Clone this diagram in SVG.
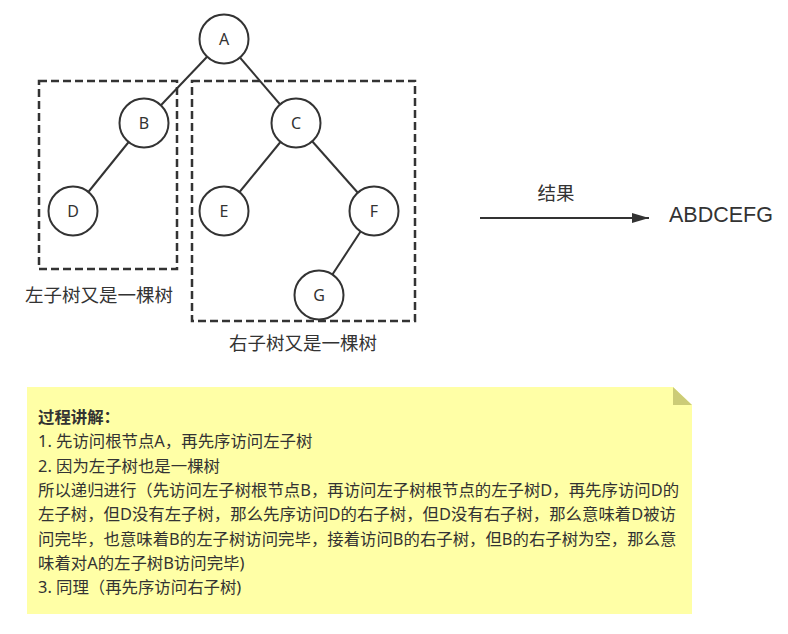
<svg xmlns="http://www.w3.org/2000/svg" width="788" height="634" viewBox="0 0 788 634">
<defs>
<style>
.node circle{fill:#fff;stroke:#333;stroke-width:2}
.node text{font-family:"Noto Sans","Noto Sans CJK SC",sans-serif;font-size:16px;fill:#333;text-anchor:middle}
.edge{stroke:#333;stroke-width:2;fill:none}
.box{fill:none;stroke:#333;stroke-width:2.5;stroke-dasharray:8 4}
.lbl{font-family:"Noto Sans","Noto Sans CJK SC",sans-serif;font-size:18.5px;fill:#333;text-anchor:middle}
.note{font-family:"Noto Sans","Noto Sans CJK SC",sans-serif;font-size:16.4px;fill:#333}
</style>
<marker id="arr" viewBox="0 0 17 10" refX="17" refY="5" markerWidth="17" markerHeight="10" markerUnits="userSpaceOnUse" orient="auto">
<path d="M0,0 L17,5 L0,10 Z" fill="#333"/>
</marker>
</defs>
<rect width="788" height="634" fill="#fff"/>
<g id="left-subtree-box">
<rect class="box" x="39" y="81" width="138" height="188"/>
<text class="lbl" x="99" y="302">左子树又是一棵树</text>
</g>
<g id="right-subtree-box">
<rect class="box" x="192" y="81" width="223" height="240"/>
<text class="lbl" x="303" y="350">右子树又是一棵树</text>
</g>
<g id="connectors">
<line class="edge" x1="224" y1="39" x2="144" y2="123"/>
<line class="edge" x1="224" y1="39" x2="296" y2="123"/>
<line class="edge" x1="144" y1="123" x2="73" y2="211"/>
<line class="edge" x1="296" y1="123" x2="224" y2="211"/>
<line class="edge" x1="296" y1="123" x2="374" y2="211"/>
<line class="edge" x1="374" y1="211" x2="319" y2="295"/>
<line class="edge" x1="480" y1="218" x2="649" y2="218" marker-end="url(#arr)"/>
<text class="lbl" x="556" y="200">结果</text>
</g>
<g id="node-A" class="node"><circle cx="224" cy="39" r="24.5"/><text x="224" y="45">A</text></g>
<g id="node-B" class="node"><circle cx="144" cy="123" r="24.5"/><text x="144" y="129">B</text></g>
<g id="node-C" class="node"><circle cx="296" cy="123" r="24.5"/><text x="296" y="129">C</text></g>
<g id="node-D" class="node"><circle cx="73" cy="211" r="24.5"/><text x="73" y="217">D</text></g>
<g id="node-E" class="node"><circle cx="224" cy="211" r="24.5"/><text x="224" y="217">E</text></g>
<g id="node-F" class="node"><circle cx="374" cy="211" r="24.5"/><text x="374" y="217">F</text></g>
<g id="node-G" class="node"><circle cx="319" cy="295" r="24.5"/><text x="319" y="301">G</text></g>
<g id="result">
<text x="669" y="222" font-family="Liberation Sans, Arial, sans-serif" font-size="21.5" fill="#333">ABDCEFG</text>
</g>
<g id="note">
<path d="M27,387 H673 L692,405 V614 H27 Z" fill="#FFFFA6"/>
<path d="M673,387 L692,405 H673 Z" fill="#CCCC77"/>
<text class="note" x="38" y="423" font-weight="bold">过程讲解：</text>
<text class="note" x="38" y="447.3">1. 先访问根节点A，再先序访问左子树</text>
<text class="note" x="38" y="471.6">2. 因为左子树也是一棵树</text>
<text class="note" x="38" y="495.9">所以递归进行（先访问左子树根节点B，再访问左子树根节点的左子树D，再先序访问D的</text>
<text class="note" x="38" y="520.2">左子树，但D没有左子树，那么先序访问D的右子树，但D没有右子树，那么意味着D被访</text>
<text class="note" x="38" y="544.5">问完毕，也意味着B的左子树访问完毕，接着访问B的右子树，但B的右子树为空，那么意</text>
<text class="note" x="38" y="568.8">味着对A的左子树B访问完毕)</text>
<text class="note" x="38" y="593.1">3. 同理（再先序访问右子树)</text>
</g>
</svg>
